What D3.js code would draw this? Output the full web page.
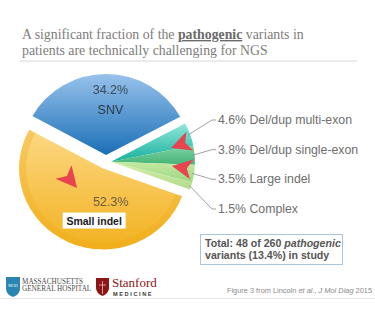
<!DOCTYPE html>
<html><head><meta charset="utf-8">
<script src="https://cdn.jsdelivr.net/npm/d3@7"></script>
<style>body{margin:0;background:#fff}svg{display:block}</style>
</head><body><svg id="c" width="375" height="325"></svg>
<script>
const categories = ["SNV","Del/dup multi-exon","Del/dup single-exon","Large indel","Complex","Small indel"];
const values = [34.2, 4.6, 3.8, 3.5, 1.5, 52.3];
const minorCategories = ["Del/dup multi-exon","Del/dup single-exon","Large indel","Complex"];
const titleLine1 = ["A significant fraction of the ", "pathogenic", " variants in"];
const titleLine2 = "patients are technically challenging for NGS";
const totalText = ["Total: 48 of 260 ", "pathogenic", "variants (13.4%) in study"];

const svg = d3.select("#c");
const font = "'Liberation Sans', Arial, sans-serif";
const serif = "'Liberation Serif', 'Times New Roman', serif";

// title
const t1 = svg.append("text").attr("x",22).attr("y",39).attr("font-family",serif).attr("font-size",13.8).attr("fill","#7d7d7d");
t1.append("tspan").text(titleLine1[0]);
t1.append("tspan").text(titleLine1[1]).attr("font-weight","bold").attr("fill","#6a6a6a").attr("text-decoration","underline");
t1.append("tspan").text(titleLine1[2]);
svg.append("text").attr("x",22).attr("y",55).attr("font-family",serif).attr("font-size",13.8).attr("fill","#7d7d7d").text(titleLine2);
svg.append("line").attr("x1",20).attr("x2",357).attr("y1",61).attr("y2",61).attr("stroke","#d6d6d6").attr("stroke-width",1);

// gradients
const colors = {
  "SNV":["#98c2ec","#1a6fb6"],
  "Del/dup multi-exon":["#92e8da","#16b09e"],
  "Del/dup single-exon":["#7fd4a4","#45b378"],
  "Large indel":["#c4eaa2","#9ad882"],
  "Complex":["#d6eeaa","#b2dc8c"],
  "Small indel":["#fcd884","#f2b11e"]
};
const defs = svg.append("defs");
categories.forEach((c,i)=>{
  const g = defs.append("linearGradient").attr("id","g"+i).attr("x1",0).attr("y1",0).attr("x2",0).attr("y2",1);
  g.append("stop").attr("offset","0%").attr("stop-color",colors[c][0]);
  g.append("stop").attr("offset","100%").attr("stop-color",colors[c][1]);
});

const cx = 106, cy = 162, rx = 84, ry = 81;
const k = ry/rx;
const total = d3.sum(values);
const start = -61.2*Math.PI/180;
const pie = d3.pie().sort(null).value(d=>d).startAngle(start).endAngle(start+2*Math.PI*total/100);
const arcs = pie(values);
const arc = d3.arc().innerRadius(0).outerRadius(rx);

const minorSet = new Set(minorCategories);
const minorArcs = arcs.filter((a,i)=>minorSet.has(categories[i]));
const minorMid = (minorArcs[0].startAngle + minorArcs[minorArcs.length-1].endAngle)/2;
function offsetFor(i){
  const a = arcs[i];
  const c = categories[i];
  let ang, d;
  if (minorSet.has(c)) { ang = minorMid; d = 5; }
  else { ang = (a.startAngle+a.endAngle)/2; d = 7; }
  return [Math.sin(ang)*d, -Math.cos(ang)*d];
}

const pg = svg.append("g").attr("transform",`translate(${cx},${cy}) scale(1,${k})`);
arcs.forEach((a,i)=>{
  const o = offsetFor(i);
  pg.append("path").attr("d",arc(a))
    .attr("transform",`translate(${o[0]},${o[1]/k})`)
    .attr("fill", `url(#g${i})`);
});
// darker bottom rim for small indel (3D thickness feel)
{
  const i = categories.indexOf("Small indel");
  const o = offsetFor(i);
  const rim = d3.arc().innerRadius(rx-7).outerRadius(rx);
  pg.append("path").attr("d",rim(arcs[i])).attr("transform",`translate(${o[0]},${o[1]/k})`)
    .attr("fill","#eeaa10").attr("opacity",0.3);
}

// inner labels
function pt(i, r){
  const a = arcs[i]; const ang=(a.startAngle+a.endAngle)/2; const o=offsetFor(i);
  return [cx+o[0]+Math.sin(ang)*r, cy+o[1]+(-Math.cos(ang)*r)*k];
}
const iS = categories.indexOf("SNV");
const pS = pt(iS, 60);
svg.append("text").attr("x",pS[0]+4).attr("y",pS[1]-3).attr("text-anchor","middle").attr("font-family",font).attr("font-size",12.5).attr("fill","#3d4a5a").text(values[iS].toFixed(1)+"%");
svg.append("text").attr("x",pS[0]+4).attr("y",pS[1]+17).attr("text-anchor","middle").attr("font-family",font).attr("font-size",12.5).attr("fill","#2e3a48").text(categories[iS]);

const iY = categories.indexOf("Small indel");
const pY = pt(iY, 40);
svg.append("text").attr("x",pY[0]+24).attr("y",pY[1]+2).attr("text-anchor","middle").attr("font-family",font).attr("font-size",12.5).attr("fill","#6b5e45").text(values[iY].toFixed(1)+"%");
svg.append("rect").attr("x",pY[0]-24).attr("y",pY[1]+9).attr("width",63).attr("height",16).attr("fill","#fff");
svg.append("text").attr("x",pY[0]+7.5).attr("y",pY[1]+21).attr("text-anchor","middle").attr("font-family",font).attr("font-size",10.5).attr("font-weight","bold").attr("fill","#1a1a1a").text(categories[iY]);

// minor labels with leaders
const ly = d3.scalePoint().domain(minorCategories).range([124,213]);
minorCategories.forEach(c=>{
  const i = categories.indexOf(c);
  const a = arcs[i]; const ang=(a.startAngle+a.endAngle)/2; const o=offsetFor(i);
  const ex = cx+o[0]+Math.sin(ang)*(rx-2), ey = cy+o[1]-Math.cos(ang)*(ry-2);
  const y = ly(c);
  svg.append("polyline").attr("points",`${ex},${ey} 212,${y-4} 216,${y-4}`).attr("fill","none").attr("stroke","#8a8a8a").attr("stroke-width",0.8);
  svg.append("text").attr("x",218).attr("y",y).attr("font-family",font).attr("font-size",12.3).attr("fill","#6e6e6e").text(values[i].toFixed(1)+"% "+c);
});

// red chevron annotations
function chevron(x,y,rot,s){
  svg.append("path").attr("d","M0,0 L-1,-0.5 L-0.75,0 L-1,0.5 Z")
    .attr("transform",`translate(${x},${y}) rotate(${rot}) scale(${s})`).attr("fill","#e8434f");
}
chevron(77,188,50,21);
chevron(171,148,160,20);
chevron(172,166,190,20);

// total box
svg.append("rect").attr("x",200.5).attr("y",234.5).attr("width",142).attr("height",30).attr("fill","#fff").attr("stroke","#a9c5dc").attr("stroke-width",1);
const tt = svg.append("text").attr("x",205).attr("y",247).attr("font-family",font).attr("font-size",10.6).attr("font-weight","bold").attr("fill","#555");
tt.append("tspan").text(totalText[0]);
tt.append("tspan").text(totalText[1]).attr("font-style","italic");
svg.append("text").attr("x",205).attr("y",259).attr("font-family",font).attr("font-size",10.6).attr("font-weight","bold").attr("fill","#555").text(totalText[2]);

// footnote
const fn = svg.append("text").attr("x",372).attr("y",293).attr("text-anchor","end").attr("font-family",font).attr("font-size",7.4).attr("fill","#8a8a8a");
fn.append("tspan").text("Figure 3 from Lincoln ");
fn.append("tspan").text("et al.").attr("font-style","italic");
fn.append("tspan").text(", ");
fn.append("tspan").text("J Mol Diag").attr("font-style","italic");
fn.append("tspan").text(" 2015");
svg.append("line").attr("x1",0).attr("x2",375).attr("y1",298.5).attr("y2",298.5).attr("stroke","#e6e6e6");

// logos
svg.append("path").attr("d","M6,277 L20,277 L20,289 Q20,294 13,297 Q6,294 6,289 Z").attr("fill","#2a86b0");
svg.append("text").attr("x",13).attr("y",287).attr("text-anchor","middle").attr("font-family",serif).attr("font-size",4).attr("fill","#fff").text("MGH");
svg.append("text").attr("x",22).attr("y",284).attr("font-family",serif).attr("font-size",7.2).attr("fill","#4a4a4a").text("MASSACHUSETTS");
svg.append("text").attr("x",22).attr("y",291).attr("font-family",serif).attr("font-size",7.2).attr("fill","#4a4a4a").text("GENERAL HOSPITAL");
svg.append("path").attr("d","M96,278 L109,278 L109,288 Q109,293 102.5,296 Q96,293 96,288 Z").attr("fill","#8c1515");
svg.append("path").attr("d","M102.5,281 L102.5,294 M99,285 L106,285").attr("stroke","#e8c0c0").attr("stroke-width",0.8);
svg.append("text").attr("x",112).attr("y",287).attr("font-family",serif).attr("font-size",13).attr("fill","#8c1515").text("Stanford");
svg.append("text").attr("x",113).attr("y",295.5).attr("font-family",font).attr("font-size",5.6).attr("font-weight","bold").attr("letter-spacing",1.6).attr("fill","#3a3a3a").text("MEDICINE");
</script></body></html>
